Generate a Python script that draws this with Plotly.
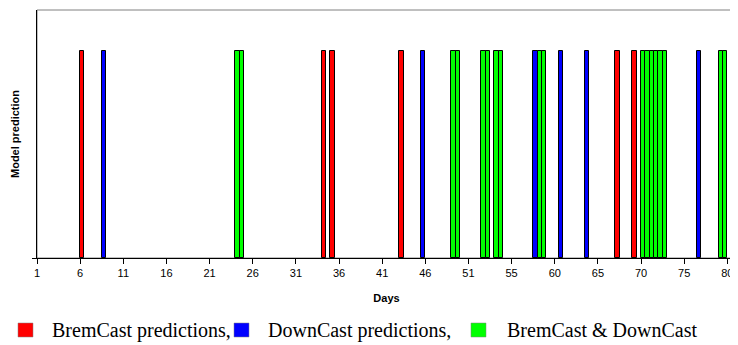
import plotly.graph_objects as go

# Prediction times (day units, half-day resolution) for each series
bremcast_days = [6.0, 34.0, 35.0, 43.0, 68.0, 70.0]
downcast_days = [8.5, 45.5, 58.5, 61.5, 64.5, 77.5]
both_days = [24.0, 24.5, 49.0, 49.5, 52.5, 53.0, 54.0, 54.5, 59.0, 59.5,
             71.0, 71.5, 72.0, 72.5, 73.0, 73.5, 80.0, 80.5]

tick_vals = [1, 6, 11, 16, 21, 26, 31, 36, 41, 46, 51, 56, 61, 66, 71, 76, 81]
tick_text = ["1", "6", "11", "16", "21", "26", "31", "36", "41", "46", "51",
             "55", "60", "65", "70", "75", "80"]

series_names = ["BremCast predictions,", "DownCast predictions,", "BremCast & DownCast"]
series_colors = ["#FF0000", "#0000FF", "#00FF00"]
series_days = [bremcast_days, downcast_days, both_days]

fig = go.Figure()
for name, col, days in zip(series_names, series_colors, series_days):
    fig.add_trace(go.Bar(
        x=days, y=[1] * len(days), name=name,
        marker=dict(color=col, line=dict(color="black", width=1)),
        width=0.5, offset=0, showlegend=False,
    ))

# the page body has an 8px default margin, so the figure is sized/offset for it
OFF = 8
axis_font = dict(family="Liberation Sans, Arial", size=11, color="black")
fig.update_layout(
    width=738 - OFF, height=345 - OFF,
    margin=dict(l=37 - OFF, r=2, t=10 - OFF, b=87, autoexpand=False),
    plot_bgcolor="white", paper_bgcolor="white",
    barmode="overlay", bargap=0,
    xaxis=dict(range=[1, 82], tickvals=tick_vals, ticktext=tick_text,
               ticks="outside", ticklen=5, tickcolor="black", tickwidth=1,
               showline=True, linecolor="black", linewidth=1, automargin=False,
               showgrid=False, zeroline=False, tickfont=axis_font,
               title=dict(text="<b>Days</b>", font=axis_font, standoff=16)),
    yaxis=dict(range=[0, 1.2], tickvals=[0], showticklabels=False,
               ticks="outside", ticklen=4, tickcolor="black", automargin=False,
               showline=True, linecolor="black", linewidth=1,
               showgrid=False, zeroline=False,
               title=dict(text="<b>Model prediction</b>", font=axis_font, standoff=10)),
)

# gray plot-area frame
fig.add_shape(type="rect", xref="paper", yref="paper", x0=0, x1=1, y0=0, y1=1,
              line=dict(color="#808080", width=1), layer="below")

# manual legend below the chart (page pixel positions converted to paper coords)
plot_l, plot_w, plot_t, plot_h = 37, 699, 10, 248
def px_x(p):
    return (p - plot_l) / plot_w
def px_y(p):
    return 1 - (p - plot_t) / plot_h

legend_sq = [18, 234, 471]
legend_txt = [50, 266, 505]
leg_y = 330
for name, col, sx, tx in zip(series_names, series_colors, legend_sq, legend_txt):
    fig.add_shape(type="rect", xref="paper", yref="paper",
                  x0=px_x(sx), x1=px_x(sx + 15), y0=px_y(leg_y - 7), y1=px_y(leg_y + 7),
                  fillcolor=col, line=dict(color="#808080", width=0.5))
    fig.add_annotation(xref="paper", yref="paper", x=px_x(tx), y=px_y(leg_y),
                       text=name, showarrow=False, xanchor="left", yanchor="middle",
                       font=dict(family="Liberation Serif, Times New Roman", size=20, color="black"))

fig.write_html("out.html")
